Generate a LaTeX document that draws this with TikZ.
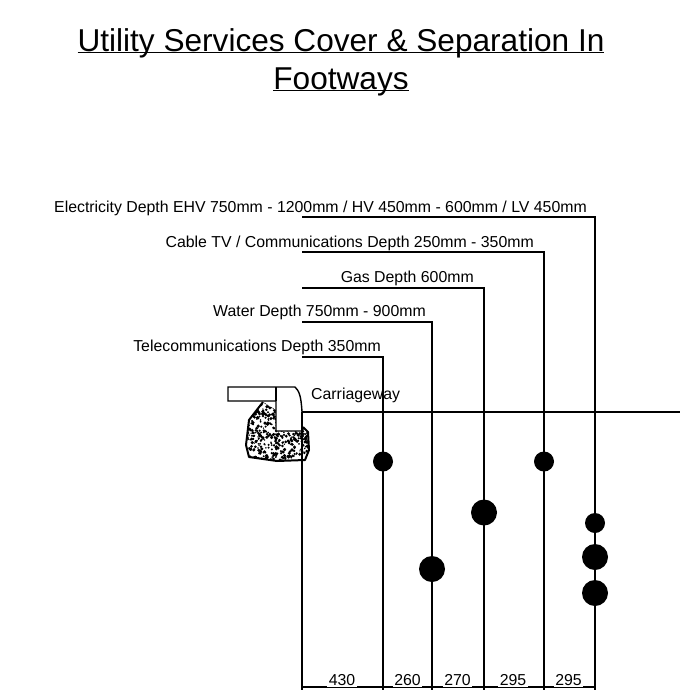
\documentclass[tikz,border=0pt]{standalone}
\usepackage{fontspec}
\setmainfont{Liberation Sans}
\begin{document}
\begin{tikzpicture}[x=1pt,y=-1pt,
  rule/.style={line width=1.6pt,black},
  thick rule/.style={line width=1.8pt,black},
  duct/.style={circle,fill=black,inner sep=0pt},
  small duct/.style={duct,minimum size=20pt},
  big duct/.style={duct,minimum size=26pt},
  lab/.style={font=\fontsize{15.85}{18}\selectfont,inner sep=0pt,anchor=base east},
  dim/.style={font=\fontsize{15.85}{18}\selectfont,inner sep=1.5pt,fill=white,anchor=base},
  ttl/.style={font=\fontsize{31.6}{35}\selectfont,inner sep=0pt,anchor=base}]
\useasboundingbox (0,0) rectangle (680,694);
\fill[white] (0,0) rectangle (680,694);
% title
\node[ttl] (t1) at (341,51) {\underline{\smash{Utility Services Cover \& Separation In}}};
\node[ttl] (t2) at (341,89) {\underline{\smash{Footways}}};
% kerb stipple
\begin{scope}
  \clip (263,402) -- (249,420) -- (246,445) -- (249,457) -- (277,461) -- (305,460) -- (309,450) -- (308,432) -- (303,427) -- cycle;
  \pgfmathsetseed{4217}
  \foreach \i in {1,...,620}{
    \pgfmathsetmacro{\px}{245+65*rnd}
    \pgfmathsetmacro{\py}{400+62*rnd}
    \pgfmathsetmacro{\pr}{0.7+1.0*rnd}
    \fill[black] (\px,\py) circle[radius=\pr];
  }
\end{scope}
\draw[line width=2pt,line join=round] (263,402) -- (249,420) -- (246,445) -- (249,457) -- (277,461) -- (305,460) -- (309,450) -- (308,432) -- (303,427);
% kerb
\draw[line width=1.4pt,fill=white] (228,387) -- (295,387) .. controls (299,391) and (301,395) .. (302,412) -- (302,431) -- (276,431) -- (276,401) -- (228,401) -- cycle;
\draw[line width=1.4pt] (276,387) -- (276,401);
% reference coordinates
\coordinate (k) at (302,412);
\coordinate (kb) at (302,687);
\coordinate (road) at (680,412);
\coordinate (e0) at (302,217);
\coordinate (c0) at (302,252);
\coordinate (g0) at (302,288);
\coordinate (w0) at (302,322);
\coordinate (p0) at (302,357);
\coordinate (e1) at (595,217);
\coordinate (c1) at (544,252);
\coordinate (g1) at (484,288);
\coordinate (w1) at (432,322);
\coordinate (p1) at (383,357);
\coordinate (e2) at (595,687);
\coordinate (c2) at (544,687);
\coordinate (g2) at (484,687);
\coordinate (w2) at (432,687);
\coordinate (p2) at (383,687);
\draw[rule] (k) -- (road);
\draw[thick rule] (k) -- (kb);
% leaders
\draw[rule] (e0) -- (e1) -- (e2);
\draw[rule] (c0) -- (c1) -- (c2);
\draw[rule] (g0) -- (g1) -- (g2);
\draw[rule] (w0) -- (w1) -- (w2);
\draw[rule] (p0) -- (p1) -- (p2);
% dimension line
\draw[line width=1.2pt] (kb) -- (e2);
\foreach \c in {kb,p2,w2,g2,c2,e2}
  \draw[line width=1.2pt] (\c) ++(0,-3) -- ++(0,6);
% ducts
\node[small duct] (d1) at (383,461.5) {};
\node[big duct] (d2) at (432,569) {};
\node[big duct] (d3) at (484,512.5) {};
\node[small duct] (d4) at (544,461.5) {};
\node[small duct] (d5) at (595,523) {};
\node[big duct] (d6) at (595,557) {};
\node[big duct] (d7) at (595,593) {};
% labels
\node[lab] (le) at (587,212) {Electricity Depth EHV 750mm - 1200mm / HV 450mm - 600mm / LV 450mm};
\node[lab] (lc) at (534,247) {Cable TV / Communications Depth 250mm - 350mm};
\node[lab] (lg) at (474,282) {Gas Depth 600mm};
\node[lab] (lw) at (426,316) {Water Depth 750mm - 900mm};
\node[lab] (lp) at (381,351) {Telecommunications Depth 350mm};
\node[lab,anchor=base west] (lr) at (311,399) {Carriageway};
% dimensions
\node[dim] (n1) at (342,685) {430};
\node[dim] (n2) at (407.5,685) {260};
\node[dim] (n3) at (457.5,685) {270};
\node[dim] (n4) at (513,685) {295};
\node[dim] (n5) at (568.5,685) {295};
\end{tikzpicture}
\end{document}
